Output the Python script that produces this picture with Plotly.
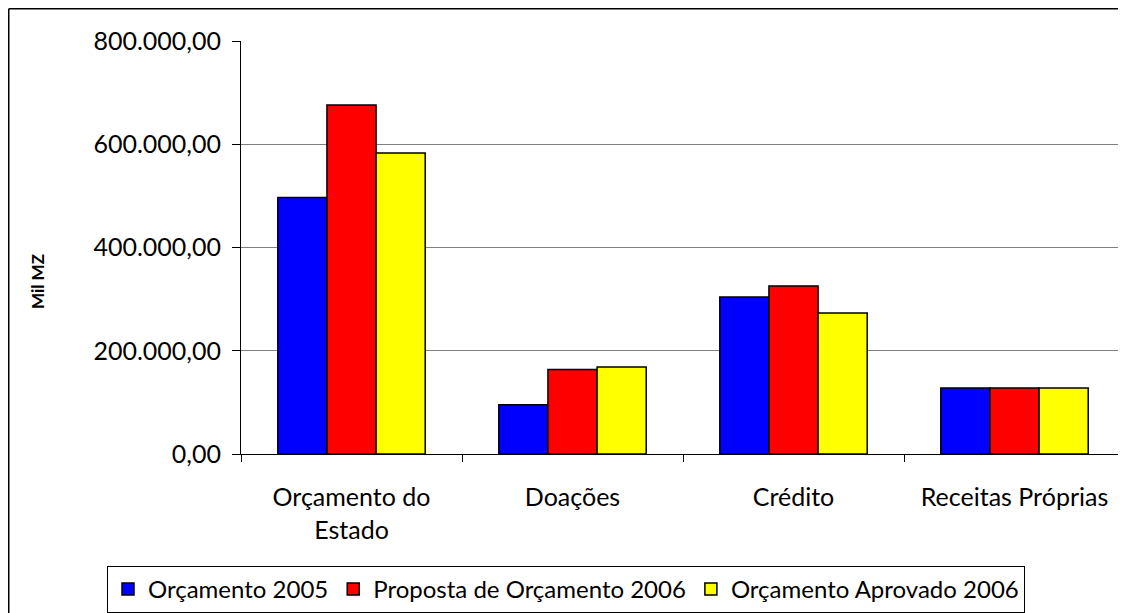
import plotly.graph_objects as go

categories = ["Orçamento do<br>Estado", "Doações", "Crédito", "Receitas Próprias"]
series_names = ["Orçamento 2005", "Proposta de Orçamento 2006", "Orçamento Aprovado 2006"]
orcamento_2005 = [497000, 95400, 303900, 127800]
proposta_2006 = [676000, 163900, 325200, 127800]
aprovado_2006 = [583000, 168400, 272900, 127800]
colors = ["#0000FF", "#FF0000", "#FFFF00"]
y_ticks = [0, 200000, 400000, 600000, 800000]

FONT = "Lato"
W, H = 1118, 605
L, R, T, B = 233, 1, 33, 159
PW, PH = W - L - R, H - T - B


def px(x):
    return (x - L) / PW


def py(y):
    return (H - B - y) / PH


fig = go.Figure()
for name, vals, col in zip(series_names, [orcamento_2005, proposta_2006, aprovado_2006], colors):
    fig.add_trace(go.Bar(
        x=categories, y=vals, name=name,
        marker=dict(color=col, line=dict(color="black", width=1.5)),
    ))

fig.update_layout(
    width=W, height=H,
    margin=dict(l=L, r=R, t=T, b=B, pad=0, autoexpand=False),
    paper_bgcolor="white", plot_bgcolor="white",
    separators=",.",
    font=dict(family=FONT, size=25, color="black"),
    barmode="group", bargap=0.333, bargroupgap=0,
    showlegend=True,
    legend=dict(
        orientation="h", xref="paper", yref="paper",
        x=px(99), xanchor="left", y=py(558), yanchor="top",
        bordercolor="black", borderwidth=1, bgcolor="white",
        font=dict(family=FONT, size=24, color="black"),
        itemwidth=30, tracegroupgap=0,
    ),
    xaxis=dict(
        type="category", showline=True, linecolor="black", linewidth=1,
        ticks="outside", tickson="boundaries", ticklen=7, tickcolor="black",
        showgrid=False, ticklabelstandoff=21, tickangle=0,
        tickfont=dict(family=FONT, size=25),
    ),
    yaxis=dict(
        range=[0, 800000], tickvals=y_ticks, tickformat=",.2f",
        showline=True, linecolor="black", linewidth=1,
        ticks="outside", ticklen=8, tickcolor="black",
        showgrid=True, gridcolor="#808080", gridwidth=1,
        zeroline=False, ticklabelstandoff=6,
        tickfont=dict(family=FONT, size=25),
    ),
    annotations=[dict(
        text="<b>Mil MZ</b>", textangle=-90, showarrow=False,
        xref="paper", yref="paper",
        x=px(29), y=py(274),
        xanchor="center", yanchor="middle",
        font=dict(family=FONT, size=17, color="black"),
    )],
    shapes=[
        # right border of plot area
        dict(type="line", xref="paper", yref="paper", x0=1, x1=1, y0=0, y1=1,
             line=dict(color="#808080", width=1)),
        # outer chart border (top and left visible)
        dict(type="line", xref="paper", yref="paper",
             x0=px(0.75), x1=px(W + 5), y0=py(0.75), y1=py(0.75),
             line=dict(color="black", width=1.5)),
        dict(type="line", xref="paper", yref="paper",
             x0=px(0.75), x1=px(0.75), y0=py(0.75), y1=py(H + 5),
             line=dict(color="black", width=1.5)),
    ],
)

fig.write_html("out.html")
